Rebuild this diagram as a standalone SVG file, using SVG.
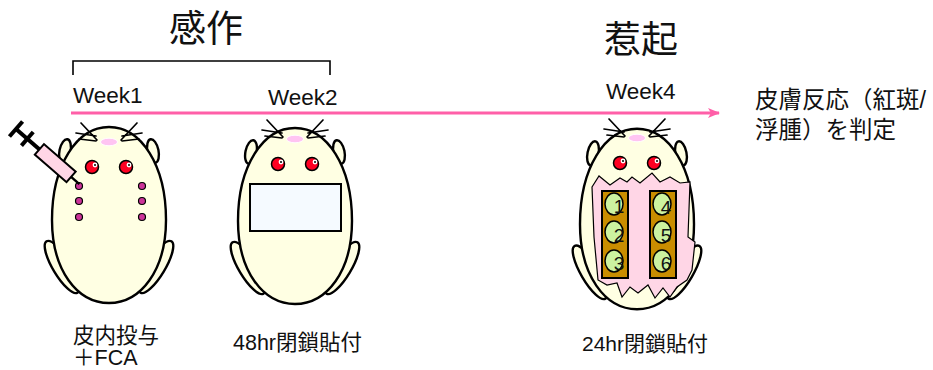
<svg xmlns="http://www.w3.org/2000/svg" xmlns:xlink="http://www.w3.org/1999/xlink" width="933" height="370" viewBox="0 0 933 370">
  <style>
    text { font-family: "Liberation Sans", "Noto Sans CJK JP", sans-serif; fill: #111; }
    .title { font-size: 37px; }
    .week { font-size: 22.5px; }
    .note { font-size: 23.5px; }
    .cap { font-size: 21.5px; }
    .num { font-size: 19px; text-anchor: middle; }
    .skin { fill: #ffffe3; stroke: #000; stroke-width: 2.4; }
    .whisker { stroke: #000; stroke-width: 1.7; stroke-linecap: round; fill: none; }
    .eye { fill: #ff0022; stroke: #000; stroke-width: 1.5; }
    .dot { fill: #cc3399; stroke: #000; stroke-width: 1.2; }
    .patch { fill: #c98d00; stroke: #000; stroke-width: 2; }
    .site { fill: #ccf2a0; stroke: #000; stroke-width: 1.5; }
  </style>
  <defs>
    <marker id="arrow" viewBox="0 0 12 10" refX="11" refY="5" markerWidth="12" markerHeight="10" markerUnits="userSpaceOnUse" orient="auto">
      <path d="M0,0 L12,5 L0,10 L3,5 Z" fill="#ff5fa8"/>
    </marker>
    <!-- guinea pig body seen from above, origin at the body centre -->
    <g id="body">
      <ellipse class="skin" cx="-47" cy="52" rx="30" ry="9" transform="rotate(59 -47 52)"/>
      <ellipse class="skin" cx="47" cy="52" rx="30" ry="9" transform="rotate(-59 47 52)"/>
      <ellipse class="skin" cx="-44" cy="-64" rx="5.5" ry="12" transform="rotate(12 -44 -64)"/>
      <ellipse class="skin" cx="44" cy="-64" rx="5.5" ry="12" transform="rotate(-12 44 -64)"/>
      <path class="skin" d="M0,-88 C32,-88 57,-50 57,5 C57,55 32,88 0,88 C-32,88 -57,55 -57,5 C-57,-50 -32,-88 0,-88 Z"/>
    </g>
    <!-- face, origin at the nose -->
    <g id="face">
      <ellipse cx="0" cy="0" rx="8.5" ry="3.8" fill="#ffc4f2" stroke="#fff" stroke-width="1"/>
      <path class="whisker" d="M-28,-19 L-12,-2 M-33,-9 L-13,-6 M-30,-3 L-13,-1 M28,-19 L12,-2 M33,-9 L13,-6 M30,-3 L13,-1"/>
      <circle class="eye" cx="-17" cy="25" r="6.5"/>
      <circle cx="-14" cy="23" r="2.4" fill="#fff"/>
      <circle cx="-14" cy="23" r="1" fill="#000"/>
      <circle class="eye" cx="17" cy="25" r="6.5"/>
      <circle cx="20" cy="23" r="2.4" fill="#fff"/>
      <circle cx="20" cy="23" r="1" fill="#000"/>
    </g>
  </defs>

  <rect width="933" height="370" fill="#fff"/>

  <!-- headings -->
  <g id="sensitization-label">
    <text class="title" x="206" y="42" text-anchor="middle">感作</text>
    <path d="M73,75 V61 H330 V75" fill="none" stroke="#000" stroke-width="1.6"/>
  </g>
  <g id="challenge-label">
    <text class="title" x="641" y="53" text-anchor="middle">惹起</text>
  </g>

  <!-- timeline -->
  <g id="connectors">
    <line x1="71" y1="113" x2="719" y2="113" stroke="#ff5fa8" stroke-width="3" marker-end="url(#arrow)"/>
  </g>

  <g id="week-labels">
    <text class="week" x="73" y="103">Week1</text>
    <text class="week" x="268" y="105">Week2</text>
    <text class="week" x="606" y="99">Week4</text>
  </g>

  <g id="result-label">
    <text class="note" x="755" y="108">皮膚反応（紅斑/</text>
    <text class="note" x="755" y="138">浮腫）を判定</text>
  </g>

  <!-- week 1: intradermal injection -->
  <g id="mouse-week1">
    <use xlink:href="#body" href="#body" transform="translate(109,215)"/>
    <use xlink:href="#face" href="#face" transform="translate(109,142)"/>
    <circle class="dot" cx="79" cy="186" r="3.5"/>
    <circle class="dot" cx="79" cy="201" r="3.5"/>
    <circle class="dot" cx="79" cy="217" r="3.5"/>
    <circle class="dot" cx="142" cy="186" r="3.5"/>
    <circle class="dot" cx="142" cy="201" r="3.5"/>
    <circle class="dot" cx="142" cy="217" r="3.5"/>
    <g id="syringe" transform="translate(16,129) rotate(41)">
      <line x1="0" y1="-10" x2="0" y2="10" stroke="#000" stroke-width="4"/>
      <line x1="15" y1="-9" x2="15" y2="9" stroke="#000" stroke-width="4"/>
      <line x1="0" y1="0" x2="32" y2="0" stroke="#000" stroke-width="4"/>
      <rect x="31" y="-7" width="42" height="14" fill="#ffd6e6" stroke="#000" stroke-width="2"/>
      <line x1="73" y1="0" x2="84" y2="0" stroke="#000" stroke-width="2.5"/>
    </g>
  </g>

  <!-- week 2: closed patch -->
  <g id="mouse-week2">
    <use xlink:href="#body" href="#body" transform="translate(295,216)"/>
    <use xlink:href="#face" href="#face" transform="translate(295,139)"/>
    <rect x="250" y="184" width="91" height="47" fill="#f5faff" stroke="#000" stroke-width="2"/>
  </g>

  <!-- week 4: challenge patches on shaved skin -->
  <g id="mouse-week4">
    <use xlink:href="#body" href="#body" transform="translate(637,219) scale(1,1.025)"/>
    <use xlink:href="#face" href="#face" transform="translate(637,138)"/>
    <polygon points="592,187 599,176 610,185 620,178 627,182 632,177 640,183 652,173 660,182 670,177 680,183 690,182 688,237 695,242 692,270 687,280 677,287 670,297 663,288 655,298 648,285 638,293 630,287 622,297 617,283 607,285 598,280 594,237" fill="#ffd6e6" stroke="#000" stroke-width="1.2" stroke-linejoin="miter"/>
    <rect class="patch" x="602" y="191" width="26" height="87"/>
    <rect class="patch" x="650" y="191" width="26" height="87"/>
    <ellipse class="site" cx="614" cy="204" rx="9" ry="11"/>
    <ellipse class="site" cx="614" cy="232" rx="9" ry="11"/>
    <ellipse class="site" cx="614" cy="261" rx="9" ry="11"/>
    <ellipse class="site" cx="662" cy="204" rx="9" ry="11"/>
    <ellipse class="site" cx="662" cy="232" rx="9" ry="11"/>
    <ellipse class="site" cx="662" cy="261" rx="9" ry="11"/>
    <text class="num" x="619" y="213">1</text>
    <text class="num" x="619" y="242">2</text>
    <text class="num" x="619" y="270">3</text>
    <text class="num" x="666" y="214">4</text>
    <text class="num" x="666" y="242">5</text>
    <text class="num" x="666" y="270">6</text>
  </g>

  <!-- captions -->
  <g id="caption-week1">
    <text class="cap" x="73" y="343">皮内投与</text>
    <text class="cap" x="73" y="365">＋FCA</text>
  </g>
  <g id="caption-week2">
    <text class="cap" x="233" y="350">48hr閉鎖貼付</text>
  </g>
  <g id="caption-week4">
    <text class="cap" x="582" y="351" style="font-size:21px">24hr閉鎖貼付</text>
  </g>
</svg>
